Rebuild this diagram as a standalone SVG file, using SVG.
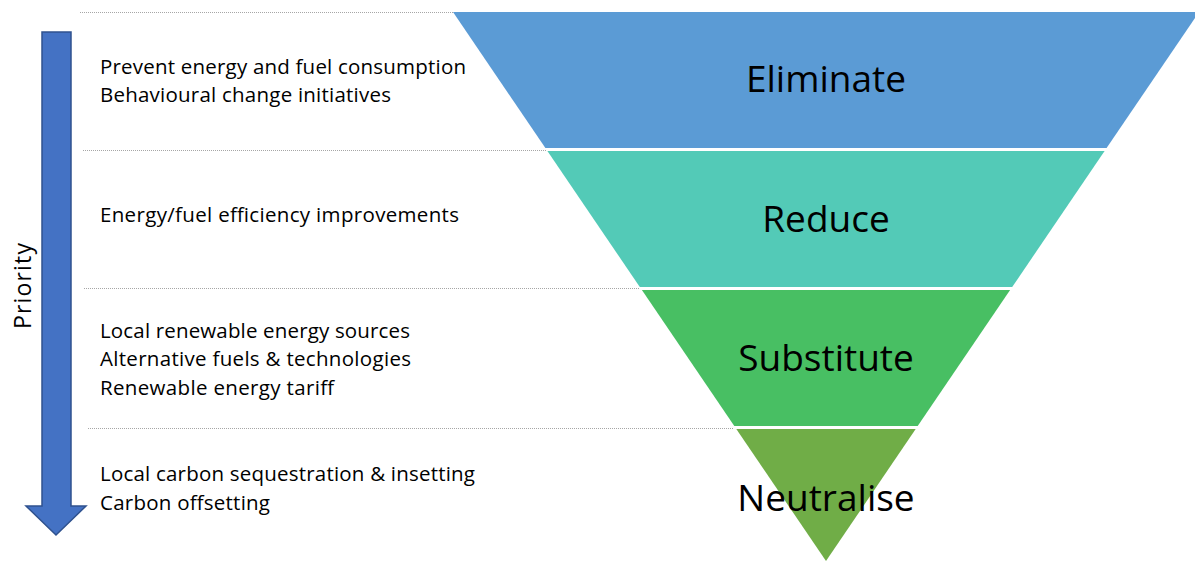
<svg xmlns="http://www.w3.org/2000/svg" width="1195" height="561" viewBox="0 0 1195 561">
<style>
.guide{stroke:#A6A6A6;stroke-width:1;stroke-dasharray:1 1;fill:none}
.desc{font-family:"Open Sans","Liberation Sans",sans-serif;font-size:20.5px;fill:#000}
.lvl{font-family:"Open Sans","Liberation Sans",sans-serif;font-size:37px;fill:#000;text-anchor:middle}
</style>
<rect width="1195" height="561" fill="#FFFFFF"/>
<g id="connectors">
<line class="guide" x1="80" y1="12.5" x2="454" y2="12.5"/>
<line class="guide" x1="83" y1="150.5" x2="546" y2="150.5"/>
<line class="guide" x1="84" y1="288.5" x2="640" y2="288.5"/>
<line class="guide" x1="88" y1="428.5" x2="734" y2="428.5"/>
</g>
<g id="priority-arrow">
<path d="M42,32 L71,32 L71,506 L86,506 L56,535 L26,506 L42,506 Z" fill="#4472C4" stroke="#2F528F" stroke-width="1.5"/>
<text transform="translate(31,286) rotate(-90)" text-anchor="middle" font-family="'Open Sans','Liberation Sans',sans-serif" font-size="23" textLength="86" fill="#000">Priority</text>
</g>
<g id="eliminate">
<polygon points="453,12 1199,12 1106.6,148 545.4,148" fill="#5B9BD5"/>
<text class="lvl" x="826" y="92">Eliminate</text>
</g>
<g id="reduce">
<polygon points="547.4,151 1104.6,151 1012.2,287 639.8,287" fill="#53CAB7"/>
<text class="lvl" x="826" y="232">Reduce</text>
</g>
<g id="substitute">
<polygon points="641.9,290 1010.1,290 917.7,426 734.3,426" fill="#48BF63"/>
<text class="lvl" x="826" y="371">Substitute</text>
</g>
<g id="neutralise">
<polygon points="736.3,429 915.7,429 826,561" fill="#70AD47"/>
<text class="lvl" x="826" y="511">Neutralise</text>
</g>
<g id="desc-eliminate">
<text class="desc" x="100" y="74" textLength="366">Prevent energy and fuel consumption</text>
<text class="desc" x="100" y="102" textLength="291">Behavioural change initiatives</text>
</g>
<g id="desc-reduce">
<text class="desc" x="100" y="222" textLength="359">Energy/fuel efficiency improvements</text>
</g>
<g id="desc-substitute">
<text class="desc" x="100" y="338" textLength="310">Local renewable energy sources</text>
<text class="desc" x="100" y="366" textLength="311">Alternative fuels &amp; technologies</text>
<text class="desc" x="100" y="395" textLength="234">Renewable energy tariff</text>
</g>
<g id="desc-neutralise">
<text class="desc" x="100" y="481" textLength="375">Local carbon sequestration &amp; insetting</text>
<text class="desc" x="100" y="510" textLength="170">Carbon offsetting</text>
</g>
</svg>
